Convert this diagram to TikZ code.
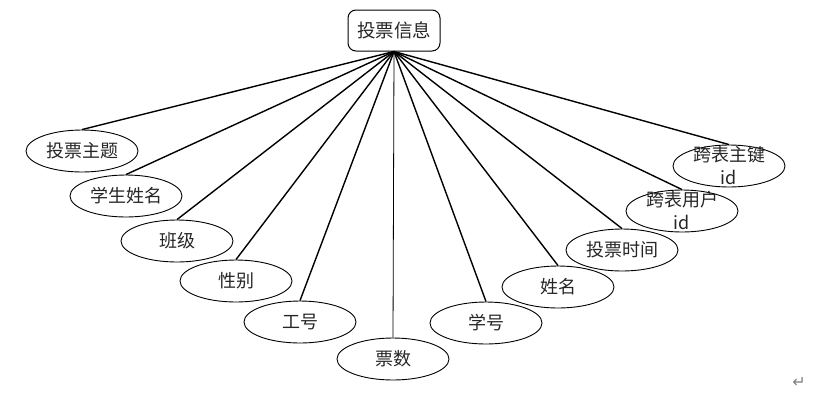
\documentclass[tikz,border=0pt]{standalone}
\usepackage{fontspec}
\newfontfamily\cjk{Noto Sans CJK SC}
\newfontfamily\symfont{DejaVu Sans}
\usetikzlibrary{shapes.geometric}

\begin{document}
\begin{tikzpicture}[x=1pt, y=-1pt,
    every node/.style={font=\cjk\fontsize{18}{23}\selectfont, text=black!85},
    attr/.style={draw=black, ellipse, line width=0.9pt, minimum width=112pt, minimum height=42pt, inner sep=0pt},
    link/.style={line width=1.4pt}]

                \useasboundingbox (0,0) rectangle (821,413);

                % Nodes
                \node at (394,30.5) (vote) [draw=black, rounded corners=8pt, line width=1pt, minimum width=92pt, minimum height=41pt, font=\cjk\fontsize{18.5}{22}\selectfont] {投票信息};
                \node at (82,151) (topic) [attr] {投票主题};
                \node at (126,196) (stuname) [attr] {学生姓名};
                \node at (177,241) (banji) [attr] {班级};
                \node at (236,281) (gender) [attr] {性别};
                \node at (300,322) (gonghao) [attr] {工号};
                \node at (393,359) (piaoshu) [attr] {票数};
                \node at (486,323) (xuehao) [attr] {学号};
                \node at (558,287) (xingming) [attr] {姓名};
                \node at (622,250) (votetime) [attr] {投票时间};
                \node at (682,211) (userid) [attr, label={[align=center]center:跨表用户\\id}] {};
                \node at (729,166) (keyid) [attr, label={[align=center]center:跨表主键\\id}] {};
                \node at (799,382) (retmark) [font=\symfont\fontsize{16}{18}\selectfont, text=gray] {↵};

                % Lines
                \draw[link] (vote.south) -- (topic.north);
                \draw[link] (vote.south) -- (stuname.north);
                \draw[link] (vote.south) -- (banji.north);
                \draw[link] (vote.south) -- (gender.north);
                \draw[link] (vote.south) -- (gonghao.north);
                \draw[link, line width=0.8pt] (vote.south) -- (piaoshu.north);
                \draw[link] (vote.south) -- (xuehao.north);
                \draw[link] (vote.south) -- (xingming.north);
                \draw[link] (vote.south) -- (votetime.north);
                \draw[link] (vote.south) -- (userid.north);
                \draw[link] (vote.south) -- (keyid.north);

\end{tikzpicture}
\end{document}
